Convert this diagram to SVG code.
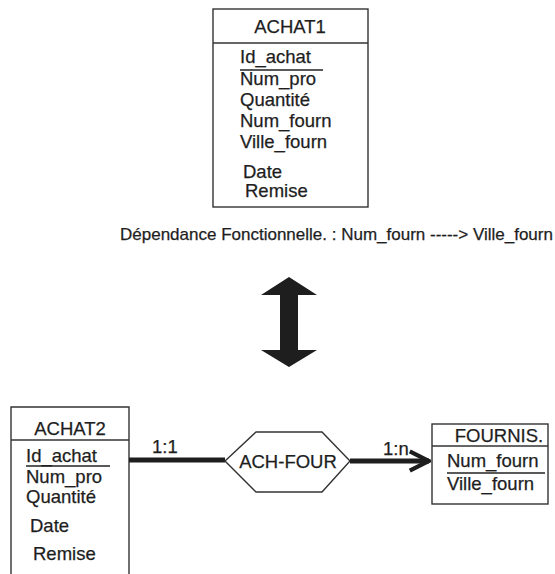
<svg xmlns="http://www.w3.org/2000/svg" width="555" height="574" viewBox="0 0 555 574">
<style>
text{font-family:"Liberation Sans",Arial,sans-serif;fill:#1e1e1e;stroke:#1e1e1e;stroke-width:0.25}
.t{font-size:18.5px}
.box{fill:none;stroke:#333;stroke-width:1.4}
.ul{stroke:#222;stroke-width:1.4}
.conn{stroke:#1e1e1e;stroke-width:5;fill:none}
</style>
<defs>
<marker id="open" viewBox="0 0 20 20" refX="18" refY="10" markerWidth="24" markerHeight="28" markerUnits="userSpaceOnUse" orient="auto">
<path d="M2,2 L18,10 L2,18" fill="none" stroke="#1e1e1e" stroke-width="3.5"/>
</marker>
</defs>
<rect width="555" height="574" fill="#fff"/>
<g id="achat1">
<rect class="box" x="213" y="9" width="155" height="198"/>
<line class="box" x1="213" y1="43" x2="368" y2="43"/>
<text class="t" x="290" y="33" text-anchor="middle">ACHAT1</text>
<text class="t" x="240" y="63">Id_achat</text>
<line class="ul" x1="240" y1="70" x2="323" y2="70"/>
<text class="t" x="240" y="85">Num_pro</text>
<text class="t" x="240" y="106">Quantité</text>
<text class="t" x="240" y="127">Num_fourn</text>
<text class="t" x="240" y="148">Ville_fourn</text>
<text class="t" x="243" y="178">Date</text>
<text class="t" x="245" y="197">Remise</text>
</g>
<g id="fd">
<text x="120" y="240" font-size="17">Dépendance Fonctionnelle. : Num_fourn -----&gt; Ville_fourn</text>
</g>
<g id="double-arrow">
<path d="M289,277 L317,295 L298,295 L298,350 L317,350 L289,367 L261,350 L280,350 L280,295 L261,295 Z" fill="#1e1e1e"/>
</g>
<g id="achat2">
<path class="box" d="M11,580 L11,407 L129,407 L129,580"/>
<line class="box" x1="11" y1="440" x2="129" y2="440"/>
<text class="t" x="70" y="435" text-anchor="middle">ACHAT2</text>
<text class="t" x="26" y="462">Id_achat</text>
<line class="ul" x1="26" y1="466" x2="110" y2="466"/>
<text class="t" x="26" y="483">Num_pro</text>
<text class="t" x="26" y="503">Quantité</text>
<text class="t" x="30" y="532">Date</text>
<text class="t" x="33" y="560">Remise</text>
</g>
<g id="ach-four">
<polygon class="box" points="225,461 256,432 322,432 350,461 322,492 256,492"/>
<text class="t" x="288" y="468" text-anchor="middle">ACH-FOUR</text>
</g>
<g id="fournis">
<rect class="box" x="432" y="424" width="116" height="80"/>
<line class="box" x1="432" y1="446" x2="548" y2="446"/>
<text class="t" x="499" y="442" text-anchor="middle">FOURNIS.</text>
<text class="t" x="447" y="467">Num_fourn</text>
<line class="ul" x1="447" y1="473" x2="545" y2="473"/>
<text class="t" x="447" y="490">Ville_fourn</text>
</g>
<g id="connectors">
<line class="conn" x1="129" y1="460" x2="225" y2="460"/>
<text class="t" x="152" y="453">1:1</text>
<line class="conn" x1="350" y1="461" x2="429" y2="461" marker-end="url(#open)"/>
<text class="t" x="383" y="455">1:n</text>
</g>
</svg>
